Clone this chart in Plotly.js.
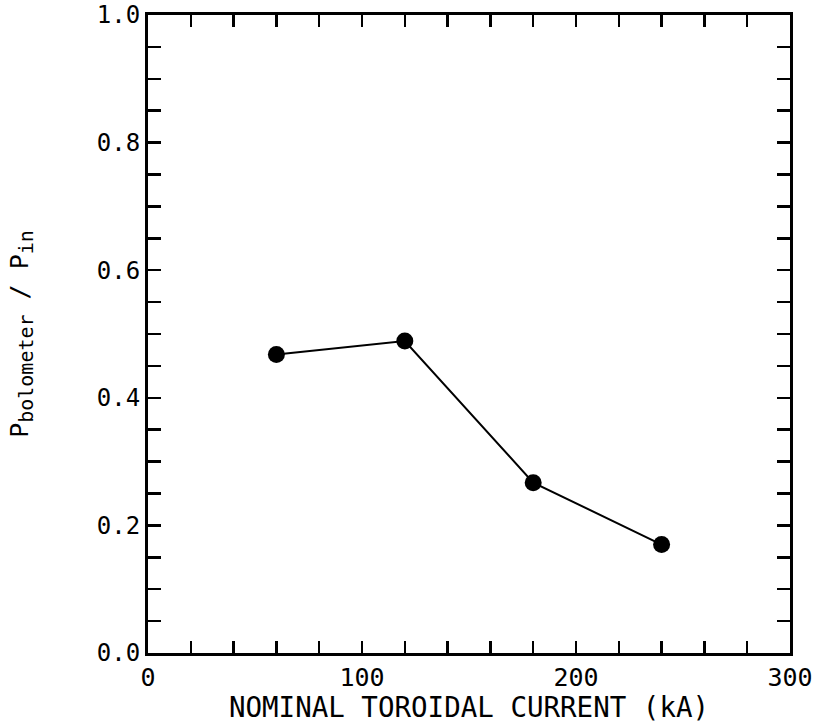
<!DOCTYPE html>
<html>
<head>
<meta charset="utf-8">
<script src="https://cdn.plot.ly/plotly-3.0.1.min.js"></script>
<style>html,body{margin:0;padding:0;background:#fff;}#chart{width:815px;height:723px;}</style>
</head>
<body>
<div id="chart"></div>
<script>
const currentKA = [60, 120, 180, 240];
const powerRatio = [0.468, 0.489, 0.267, 0.170];
const xTickVals = [0, 100, 200, 300];
const xTickText = ['0', '100', '200', '300'];
const yTickVals = [0.0, 0.2, 0.4, 0.6, 0.8, 1.0];
const yTickText = ['0.0', '0.2', '0.4', '0.6', '0.8', '1.0'];

const font = 'DejaVu Sans Mono, monospace';

const trace = {
  x: currentKA,
  y: powerRatio,
  mode: 'lines+markers',
  type: 'scatter',
  line: {color: '#000', width: 2},
  marker: {color: '#000', size: 17, symbol: 'circle'},
  hoverinfo: 'skip',
  cliponaxis: false
};

const layout = {
  width: 815,
  height: 723,
  margin: {l: 148, r: 25, t: 15, b: 70},
  paper_bgcolor: '#fff',
  plot_bgcolor: '#fff',
  showlegend: false,
  xaxis: {
    range: [0, 300],
    tickmode: 'array',
    tickvals: xTickVals,
    ticktext: xTickText,
    ticks: 'inside',
    ticklen: 12,
    tickwidth: 2.5,
    tickcolor: '#000',
    minor: {dtick: 20, ticks: 'inside', ticklen: 12, tickwidth: 2.5, tickcolor: '#000', showgrid: false},
    showline: true,
    linewidth: 3,
    linecolor: '#000',
    mirror: 'allticks',
    showgrid: false,
    zeroline: false,
    ticklabeloverflow: 'allow',
    tickfont: {family: font, size: 25, color: '#000'},
    title: {text: 'NOMINAL TOROIDAL CURRENT (kA)', font: {family: font, size: 27.5, color: '#000'}, standoff: 0}
  },
  yaxis: {
    range: [0, 1.0],
    tickmode: 'array',
    tickvals: yTickVals,
    ticktext: yTickText,
    ticks: 'inside',
    ticklen: 13,
    tickwidth: 2.5,
    tickcolor: '#000',
    minor: {dtick: 0.05, tick0: 0, ticks: 'inside', ticklen: 13, tickwidth: 2.5, tickcolor: '#000', showgrid: false},
    showline: true,
    linewidth: 3,
    linecolor: '#000',
    mirror: 'allticks',
    showgrid: false,
    zeroline: false,
    ticklabeloverflow: 'allow',
    tickfont: {family: font, size: 24, color: '#000'},
    title: {text: 'P<sub><span style="font-size:20px">bolometer</span></sub> / P<sub><span style="font-size:20px">in</span></sub>', font: {family: font, size: 25, color: '#000'}, standoff: 62}
  }
};

Plotly.newPlot('chart', [trace], layout, {displayModeBar: false, staticPlot: true});
</script>
</body>
</html>
